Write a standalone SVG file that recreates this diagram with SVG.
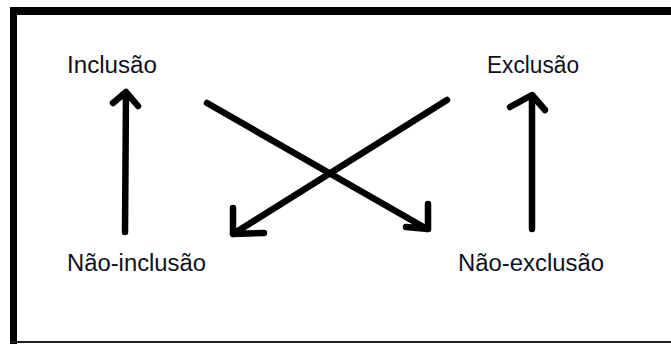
<svg xmlns="http://www.w3.org/2000/svg" width="671" height="345" viewBox="0 0 671 345">
<style>
.lbl{font-family:"Liberation Sans",Arial,sans-serif;font-size:23px;fill:#101020}
.ln{fill:none;stroke:#000;stroke-width:6.5;stroke-linecap:round;stroke-linejoin:round}
</style>
<rect width="671" height="345" fill="#fff"/>
<g id="frame">
<rect x="10" y="7" width="661" height="8" fill="#000"/>
<rect x="10" y="7" width="7" height="337" fill="#000"/>
<rect x="10" y="341" width="661" height="2" fill="#222"/>
</g>
<g id="n-inclusao"><text class="lbl" x="67" y="73" textLength="90" lengthAdjust="spacingAndGlyphs">Inclusão</text></g>
<g id="n-exclusao"><text class="lbl" x="487" y="73" textLength="92" lengthAdjust="spacingAndGlyphs">Exclusão</text></g>
<g id="n-naoinclusao"><text class="lbl" x="67" y="271" textLength="139" lengthAdjust="spacingAndGlyphs">Não-inclusão</text></g>
<g id="n-naoexclusao"><text class="lbl" x="458" y="271" textLength="146" lengthAdjust="spacingAndGlyphs">Não-exclusão</text></g>
<g id="connectors">
<path class="ln" d="M125 232 L126 93 M113 103 L126 92 L138 106"/>
<path class="ln" d="M532 229 L532 96 M510 107 L532 95 L545 110"/>
<path class="ln" d="M207 103 L427 229 M428 204 L428 229 L406 227"/>
<path class="ln" d="M447 100 L233 234 M233 208 L233 234 L264 233"/>
</g>
</svg>
